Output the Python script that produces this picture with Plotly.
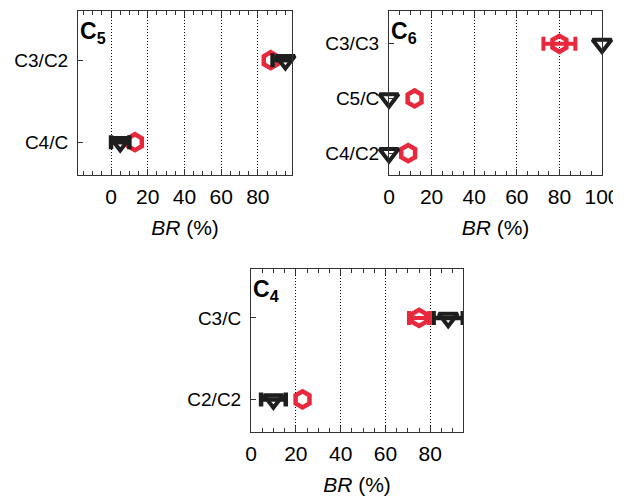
import plotly.graph_objects as go

RED = "#e8283c"
BLK = "#1e1e1e"
AX = "#333333"
FONT = "Liberation Sans, Arial, sans-serif"

# ---- data (categories listed top to bottom) ----
# panel C5
c5_cats = ["C3/C2", "C4/C"]
c5_red = [87, 13]
c5_blk = [95, 5]
c5_blk_err = [7, 5]

# panel C6
c6_cats = ["C3/C3", "C5/C", "C4/C2"]
c6_red = [80, 12, 9]
c6_red_err = [7.5]          # only C3/C3 has a visible error bar
c6_blk = [100, 0, 0]

# panel C4
c4_cats = ["C3/C", "C2/C2"]
c4_red = [75, 23]
c4_red_err = [4.5]          # only C3/C has a visible error bar
c4_blk = [88, 10]
c4_blk_err = [6.5, 5.5]

W, H = 631, 501


def px_dom_x(a, b):
    return [a / W, b / W]


def px_dom_y(top, bottom):
    return [1 - bottom / H, 1 - top / H]


fig = go.Figure()


def red_trace(x, y, err, xa, ya):
    t = go.Scatter(
        x=x, y=y, xaxis=xa, yaxis=ya, mode="markers", cliponaxis=False,
        marker=dict(symbol="hexagon-open", size=16, color=RED,
                    line=dict(width=4.5, color=RED)),
        showlegend=False,
    )
    if err is not None:
        t.error_x = dict(type="data", array=err, color=RED, thickness=4, width=7)
    return t


def blk_trace(x, y, err, xa, ya):
    t = go.Scatter(
        x=x, y=y, xaxis=xa, yaxis=ya, mode="markers", cliponaxis=False,
        marker=dict(symbol="triangle-down-open", size=16.5, color=BLK,
                    line=dict(width=4, color=BLK)),
        showlegend=False,
    )
    if err is not None:
        t.error_x = dict(type="data", array=err, color=BLK, thickness=4.5, width=7)
    return t


fig.add_trace(red_trace(c5_red, c5_cats, None, "x", "y"))
fig.add_trace(blk_trace(c5_blk, c5_cats, c5_blk_err, "x", "y"))
fig.add_trace(red_trace(c6_red, c6_cats, c6_red_err, "x2", "y2"))
fig.add_trace(blk_trace(c6_blk, c6_cats, None, "x2", "y2"))
fig.add_trace(red_trace(c4_red, c4_cats, c4_red_err, "x3", "y3"))
fig.add_trace(blk_trace(c4_blk, c4_cats, c4_blk_err, "x3", "y3"))


def xax(domain, rng, anchor):
    return dict(
        domain=domain, range=rng, anchor=anchor, automargin=False,
        tickmode="linear", tick0=0, dtick=20,
        ticks="inside", ticklen=6, tickwidth=1, tickcolor=AX,
        showline=True, linecolor=AX, linewidth=1, mirror="ticks",
        showgrid=True, gridcolor="black", griddash="1px,2px", gridwidth=1,
        zeroline=False,
        minor=dict(tick0=0, dtick=5, ticks="inside", ticklen=4,
                   tickcolor=AX, showgrid=False),
        tickfont=dict(size=21, color="black", family=FONT),
        ticklabelstandoff=3,
        title=dict(text="<i>BR</i> (%)", font=dict(size=21, color="black", family=FONT),
                   standoff=13),
    )


def yax(domain, cats, anchor):
    n = len(cats)
    return dict(
        domain=domain, anchor=anchor, type="category", automargin=False,
        categoryorder="array", categoryarray=list(reversed(cats)),
        range=[-0.4, n - 1 + 0.6],
        ticks="inside", ticklen=5, tickcolor=AX,
        showline=True, linecolor=AX, linewidth=1, mirror=True,
        showgrid=False, zeroline=False,
        tickfont=dict(size=19, color="black", family=FONT),
        ticklabelstandoff=5,
    )


fig.update_layout(
    width=W, height=H, autosize=False,
    margin=dict(l=0, r=0, t=0, b=0, pad=0, autoexpand=False),
    paper_bgcolor="white", plot_bgcolor="white",
    font=dict(family=FONT, color="black"),
    xaxis=xax(px_dom_x(78, 292), [-18, 98.6], "y"),
    yaxis=yax(px_dom_y(11, 175), c5_cats, "x"),
    xaxis2=xax(px_dom_x(389, 602), [0, 100], "y2"),
    yaxis2=yax(px_dom_y(11, 175), c6_cats, "x2"),
    xaxis3=xax(px_dom_x(251, 463), [0, 94.6], "y3"),
    yaxis3=yax(px_dom_y(269, 432), c4_cats, "x3"),
)

for xa, ya, sub in [("x", "y", "5"), ("x2", "y2", "6"), ("x3", "y3", "4")]:
    fig.add_annotation(
        xref=xa + " domain", yref=ya + " domain", x=0.0, y=0.97,
        xanchor="left", yanchor="top", showarrow=False,
        text="<b>C<sub>" + sub + "</sub></b>",
        font=dict(size=23, color="black", family=FONT),
    )

# the original figure crops the right end of the "100" label
fig.add_shape(type="rect", xref="paper", yref="paper", layer="above",
              x0=613 / W, x1=1, y0=1 - 215 / H, y1=1 - 182 / H,
              fillcolor="white", line=dict(width=0))

fig.write_html("out.html")
